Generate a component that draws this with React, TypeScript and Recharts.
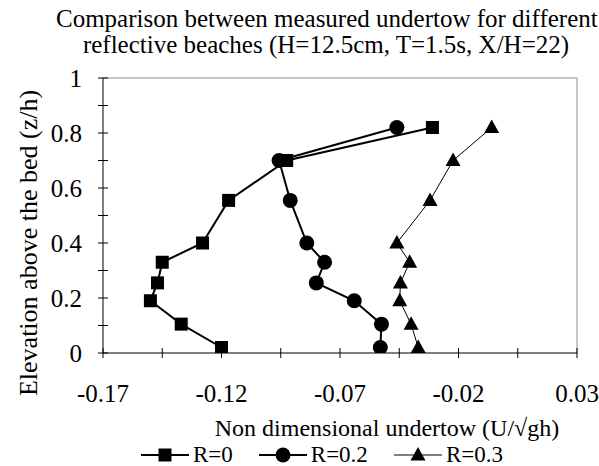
import React from 'react'
import {
  ScatterChart, Scatter, XAxis, YAxis, ReferenceLine, Legend, Label
} from 'recharts'

// elevation levels (z/h) shared by all three profiles
const levels = [0.02, 0.105, 0.19, 0.255, 0.33, 0.4, 0.555, 0.7, 0.82]

// non dimensional undertow for each reflection coefficient
const undertowR0 = [-0.12, -0.137, -0.15, -0.147, -0.145, -0.128, -0.117, -0.0925, -0.031]
const undertowR02 = [-0.053, -0.0525, -0.064, -0.08, -0.0765, -0.084, -0.091, -0.0957, -0.046]
const undertowR03 = [-0.037, -0.04, -0.0448, -0.0445, -0.0406, -0.046, -0.032, -0.0223, -0.006]

const seriesNames = ['R=0', 'R=0.2', 'R=0.3']

const xTicks = [-0.17, -0.145, -0.12, -0.095, -0.07, -0.045, -0.02, 0.005, 0.03]
const xTickLabels = ['-0.17', '', '-0.12', '', '-0.07', '', '-0.02', '', '0.03']
const yTicks = [0, 0.1, 0.2, 0.3, 0.4, 0.5, 0.6, 0.7, 0.8, 0.9, 1]
const yTickLabels = ['0', '', '0.2', '', '0.4', '', '0.6', '', '0.8', '', '1']

const FONT = 'Liberation Serif, DejaVu Serif, serif'

const toPoints = (xs: number[]) => levels.map((y, i) => ({ x: xs[i], y }))

const Square = ({ cx, cy }: any) => (
  <rect x={cx - 6.5} y={cy - 6.5} width={13} height={13} fill="#000" />
)
const Dot = ({ cx, cy }: any) => <circle cx={cx} cy={cy} r={7.5} fill="#000" />
const Tri = ({ cx, cy }: any) => (
  <polygon points={`${cx},${cy - 8} ${cx + 7.5},${cy + 5.5} ${cx - 7.5},${cy + 5.5}`} fill="#000" />
)

const series = [
  { name: seriesNames[0], data: toPoints(undertowR0), shape: Square, width: 2 },
  { name: seriesNames[1], data: toPoints(undertowR02), shape: Dot, width: 2 },
  { name: seriesNames[2], data: toPoints(undertowR03), shape: Tri, width: 1 },
]

const XTick = ({ x, y, index }: any) => (
  <g>
    <line x1={x} x2={x} y1={y - 5} y2={y + 5} stroke="#000" />
    <text x={x} y={y + 49} textAnchor="middle" fontSize={25} style={{ fontFamily: FONT }} fill="#000">
      {xTickLabels[index]}
    </text>
  </g>
)

const YTick = ({ x, y, index }: any) => (
  <g>
    <line x1={x - 5} x2={x + 5} y1={y} y2={y} stroke="#000" />
    <text x={x - 21} y={y + 9} textAnchor="end" fontSize={25} style={{ fontFamily: FONT }} fill="#000">
      {yTickLabels[index]}
    </text>
  </g>
)

const renderLegend = () => (
  <div style={{ display: 'flex', alignItems: 'center', fontFamily: FONT, fontSize: 23, lineHeight: '20px', height: 20 }}>
    {series.map((s) => {
      const Shape = s.shape
      return (
        <div key={s.name} style={{ display: 'flex', alignItems: 'center', marginRight: 26 }}>
          <svg width={50} height={20}>
            <line x1={0} x2={48} y1={10} y2={10} stroke="#000" strokeWidth={s.width} />
            <Shape cx={24} cy={10} />
          </svg>
          <span style={{ marginLeft: 2 }}>{s.name}</span>
        </div>
      )
    })}
  </div>
)

export default function App() {
  return (
    <div style={{ position: 'absolute', left: 0, top: 0, width: 599, height: 466, background: '#fff', fontFamily: FONT }}>
      <div
        style={{
          position: 'absolute', top: 6, left: 56, width: 540, textAlign: 'center',
          fontSize: 25, lineHeight: '26px', whiteSpace: 'nowrap', color: '#000'
        }}
      >
        Comparison between measured undertow for different
        <br />
        reflective beaches (H=12.5cm, T=1.5s, X/H=22)
      </div>
      <ScatterChart width={599} height={466} margin={{ top: 78, right: 22, bottom: 0, left: 13 }}>
        <XAxis
          type="number"
          dataKey="x"
          domain={[-0.17, 0.03]}
          ticks={xTicks}
          interval={0}
          allowDataOverflow
          height={113}
          tickSize={0}
          tickMargin={0}
          tickLine={false}
          axisLine={{ stroke: '#000' }}
          tick={<XTick />}
        >
          <Label
            content={() => (
              <text x={387} y={436} textAnchor="middle" fontSize={24} style={{ fontFamily: FONT }} fill="#000">
                Non dimensional undertow (U/√gh)
              </text>
            )}
          />
        </XAxis>
        <YAxis
          type="number"
          dataKey="y"
          domain={[0, 1]}
          ticks={yTicks}
          interval={0}
          allowDataOverflow
          width={90}
          tickSize={0}
          tickMargin={0}
          tickLine={false}
          axisLine={{ stroke: '#000' }}
          tick={<YTick />}
        >
          <Label
            content={() => (
              <text
                x={37}
                y={243}
                transform="rotate(-90, 37, 243)"
                textAnchor="middle"
                fontSize={26}
                style={{ fontFamily: FONT }}
                fill="#000"
              >
                Elevation above the bed (z/h)
              </text>
            )}
          />
        </YAxis>
        <ReferenceLine y={1} stroke="#8c8c8c" />
        <ReferenceLine x={0.03} stroke="#8c8c8c" />
        {series.map((s) => (
          <Scatter
            key={s.name}
            name={s.name}
            data={s.data}
            line={{ stroke: '#000', strokeWidth: s.width }}
            lineType="joint"
            shape={<s.shape />}
            isAnimationActive={false}
          />
        ))}
        <Legend
          layout="horizontal"
          verticalAlign="middle"
          align="center"
          wrapperStyle={{ top: 445, left: 141, width: 440, height: 20 }}
          content={renderLegend}
        />
      </ScatterChart>
    </div>
  )
}
